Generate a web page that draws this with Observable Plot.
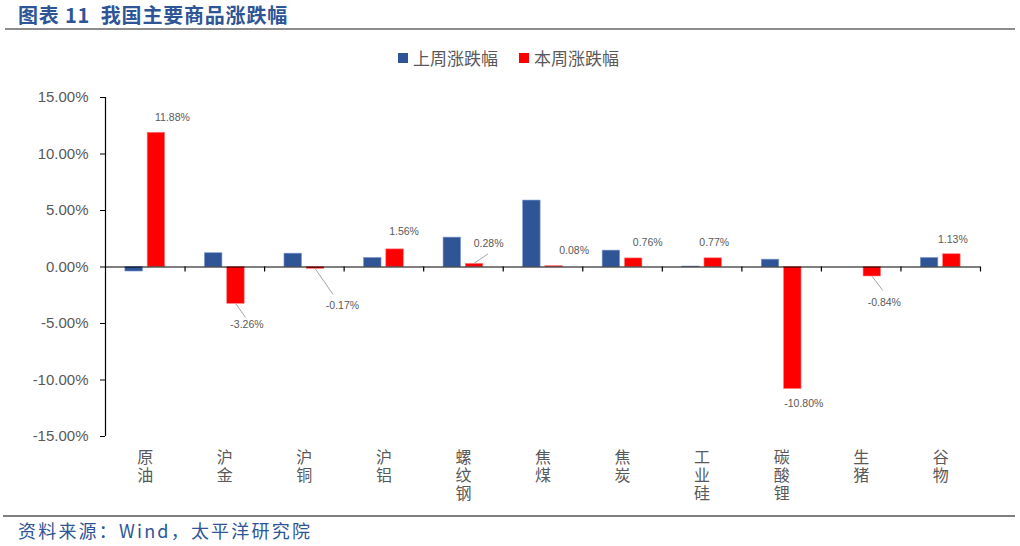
<!DOCTYPE html>
<html><head><meta charset="utf-8">
<script src="https://cdn.jsdelivr.net/npm/d3@7"></script>
<script src="https://cdn.jsdelivr.net/npm/@observablehq/plot@0.6"></script>
<style>
body{margin:0;background:#fff;}
#wrap{position:relative;width:1020px;height:546px;overflow:hidden;font-family:"Noto Sans CJK SC","Noto Sans",sans-serif;background:#fff;}
#title{position:absolute;left:18px;top:2px;font-size:20px;font-weight:bold;color:#2E5596;line-height:26px;white-space:pre;letter-spacing:0.8px;}
.rule{position:absolute;background:#8c8c8c;}
#r1{left:5px;top:28px;width:1010px;height:2px;}
#r2{left:3px;top:515px;width:1012px;height:2px;background:#7f7f7f;}
#legend{position:absolute;left:398px;top:46px;height:24px;display:flex;align-items:center;font-size:17px;color:#595959;line-height:24px;}
#legend .sw{width:10px;height:10px;display:inline-block;margin-right:5px;}
#legend .item{display:flex;align-items:center;margin-right:21px;}
#chart{position:absolute;left:0;top:70px;}
#caption{position:absolute;left:18px;top:517px;font-size:18px;color:#2E5596;letter-spacing:2.2px;line-height:26px;}
</style></head><body>
<div id="wrap">
  <div id="title">图表 11  我国主要商品涨跌幅</div>
  <div class="rule" id="r1"></div>
  <div id="legend"></div>
  <div id="chart"></div>
  <div class="rule" id="r2"></div>
  <div id="caption">资料来源：Wind，太平洋研究院</div>
</div>
<script>
const categories = ["原油","沪金","沪铜","沪铝","螺纹钢","焦煤","焦炭","工业硅","碳酸锂","生猪","谷物"];
const lastWeek = [-0.40, 1.22, 1.18, 0.80, 2.60, 5.88, 1.45, 0.04, 0.65, 0.00, 0.80];
const thisWeek = [11.88, -3.26, -0.17, 1.56, 0.28, 0.08, 0.76, 0.77, -10.80, -0.84, 1.13];
const yTicks = [-15, -10, -5, 0, 5, 10, 15];
const seriesNames = ["上周涨跌幅", "本周涨跌幅"];
const seriesColors = ["#2F5597", "#FF0000"];

// annotation layout (pixel nudges of each label from its bar end; leader line end, if any)
const labelNudge = [[16,-15],[11,21],[27,37],[9,-17.6],[14,-20.5],[20,-15.4],[14,-15.7],[1,-15.6],[11,15],[12,26],[1,-15]];
const leaderEnd = [null,[10,14],[18,26],null,[14,-9.5],null,null,null,null,[11,14.5],null];

const rows = categories.map((c, i) => ({i, c, last: lastWeek[i], cur: thisWeek[i]}));

// legend
const legend = d3.select("#legend");
seriesNames.forEach((n, k) => {
  const it = legend.append("span").attr("class", "item");
  it.append("span").attr("class", "sw").style("background", seriesColors[k]);
  it.append("span").text(n);
});

const leaders = (index, scales) => {
  const g = d3.create("svg:g").attr("stroke", "#a6a6a6").attr("stroke-width", 1);
  rows.forEach((d, i) => {
    const e = leaderEnd[i];
    if (!e) return;
    const x0 = scales.x(d.i + 0.64), y0 = scales.y(d.cur);
    g.append("line").attr("x1", x0).attr("y1", y0).attr("x2", x0 + e[0]).attr("y2", y0 + e[1]);
  });
  return g.node();
};

const chart = Plot.plot({
  width: 1020,
  height: 440,
  marginTop: 27,
  marginBottom: 74,
  marginLeft: 105,
  marginRight: 40,
  style: {fontFamily: "'Liberation Sans', Arial, sans-serif", color: "#000", background: "transparent"},
  x: {domain: [0, categories.length], axis: null},
  y: {domain: [-15, 15], axis: null},
  marks: [
    Plot.rect(rows, {x1: d => d.i + 0.25, x2: d => d.i + 0.47, y1: d => 0, y2: d => d.last, fill: seriesColors[0], stroke: "#7f9bd0", strokeWidth: 0.6}),
    Plot.rect(rows, {x1: d => d.i + 0.53, x2: d => d.i + 0.75, y1: d => 0, y2: d => d.cur, fill: seriesColors[1], stroke: "#ff8080", strokeWidth: 0.6}),
    Plot.ruleY([0], {stroke: "#000", strokeWidth: 1.2}),
    Plot.ruleX([0], {stroke: "#000", strokeWidth: 1.2}),
    Plot.ruleX(d3.range(1, categories.length + 1), {y1: d => 0, y2: d => 0, insetBottom: -5, stroke: "#000", strokeWidth: 1.2}),
    Plot.axisY({ticks: yTicks, tickFormat: d => d.toFixed(2) + "%", tickSize: 5, tickPadding: 12, fontSize: 15, stroke: "#000", fill: "#595959"}),
    leaders,
    ...rows.map((d, i) => Plot.text([d], {
      x: r => r.i + 0.64, y: r => r.cur, text: r => r.cur.toFixed(2) + "%",
      dx: labelNudge[i][0], dy: labelNudge[i][1], fontSize: 10.5, fill: "#595959"
    })),
    Plot.text(rows, {x: d => d.i + 0.5, text: d => [...d.c].join("\n"), frameAnchor: "bottom", lineAnchor: "top", dy: 13, lineHeight: 1.15, fontSize: 16, fill: "#595959", fontFamily: "'Noto Sans CJK SC', sans-serif"})
  ]
});
document.getElementById("chart").appendChild(chart);
</script>
</body></html>
